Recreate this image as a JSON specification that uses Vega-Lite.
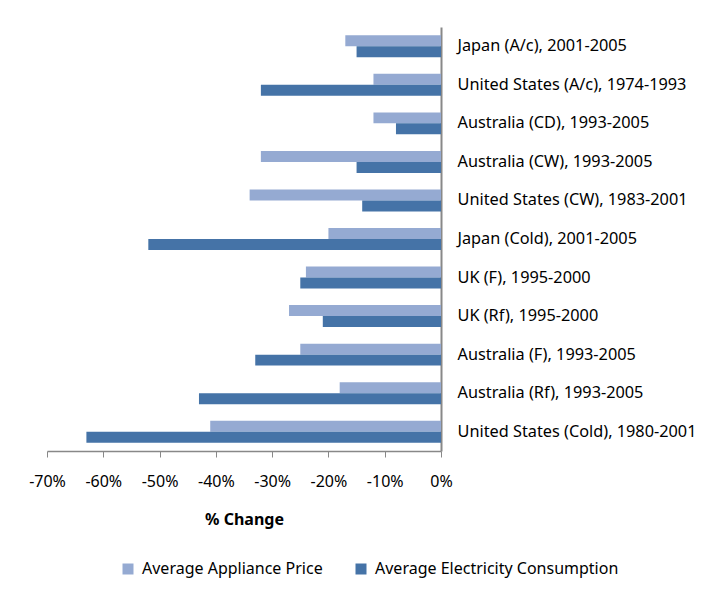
{
  "$schema": "https://vega.github.io/schema/vega-lite/v6.json",
  "width": 394,
  "height": 424,
  "padding": {"left": 28, "top": 27, "right": 5, "bottom": 5},
  "background": "white",
  "config": {
    "font": "Noto Sans",
    "view": {"stroke": null}
  },
  "data": {
    "values": [
      {"category": "Japan (A/c), 2001-2005", "series": "Average Appliance Price", "value": -17},
      {"category": "Japan (A/c), 2001-2005", "series": "Average Electricity Consumption", "value": -15},
      {"category": "United States (A/c), 1974-1993", "series": "Average Appliance Price", "value": -12},
      {"category": "United States (A/c), 1974-1993", "series": "Average Electricity Consumption", "value": -32},
      {"category": "Australia (CD), 1993-2005", "series": "Average Appliance Price", "value": -12},
      {"category": "Australia (CD), 1993-2005", "series": "Average Electricity Consumption", "value": -8},
      {"category": "Australia (CW), 1993-2005", "series": "Average Appliance Price", "value": -32},
      {"category": "Australia (CW), 1993-2005", "series": "Average Electricity Consumption", "value": -15},
      {"category": "United States (CW), 1983-2001", "series": "Average Appliance Price", "value": -34},
      {"category": "United States (CW), 1983-2001", "series": "Average Electricity Consumption", "value": -14},
      {"category": "Japan (Cold), 2001-2005", "series": "Average Appliance Price", "value": -20},
      {"category": "Japan (Cold), 2001-2005", "series": "Average Electricity Consumption", "value": -52},
      {"category": "UK (F), 1995-2000", "series": "Average Appliance Price", "value": -24},
      {"category": "UK (F), 1995-2000", "series": "Average Electricity Consumption", "value": -25},
      {"category": "UK (Rf), 1995-2000", "series": "Average Appliance Price", "value": -27},
      {"category": "UK (Rf), 1995-2000", "series": "Average Electricity Consumption", "value": -21},
      {"category": "Australia (F), 1993-2005", "series": "Average Appliance Price", "value": -25},
      {"category": "Australia (F), 1993-2005", "series": "Average Electricity Consumption", "value": -33},
      {"category": "Australia (Rf), 1993-2005", "series": "Average Appliance Price", "value": -18},
      {"category": "Australia (Rf), 1993-2005", "series": "Average Electricity Consumption", "value": -43},
      {"category": "United States (Cold), 1980-2001", "series": "Average Appliance Price", "value": -41},
      {"category": "United States (Cold), 1980-2001", "series": "Average Electricity Consumption", "value": -63}
    ]
  },
  "mark": {"type": "bar"},
  "encoding": {
    "y": {
      "field": "category",
      "type": "nominal",
      "sort": null,
      "scale": {"paddingInner": 0.43, "paddingOuter": 0.215},
      "axis": {
        "orient": "right",
        "title": null,
        "ticks": false,
        "labelPadding": 16,
        "labelFontSize": 16.3,
        "labelColor": "#000000",
        "domainColor": "#888888",
        "domainWidth": 2,
        "labelLimit": 400
      }
    },
    "yOffset": {
      "field": "series",
      "type": "nominal",
      "sort": ["Average Appliance Price", "Average Electricity Consumption"],
      "scale": {"paddingInner": 0, "paddingOuter": 0}
    },
    "x": {
      "field": "value",
      "type": "quantitative",
      "scale": {"domain": [-70, 0], "nice": false},
      "axis": {
        "values": [-70, -60, -50, -40, -30, -20, -10, 0],
        "labelExpr": "datum.value + '%'",
        "labelFlush": false,
        "labelOverlap": false,
        "grid": false,
        "title": "% Change",
        "titleFontSize": 16,
        "titleFontWeight": "bold",
        "titleColor": "#000000",
        "titlePadding": 22,
        "labelFontSize": 16,
        "labelColor": "#000000",
        "labelPadding": 16,
        "tickSize": 6,
        "tickColor": "#888888",
        "domainColor": "#888888",
        "domainWidth": 1.5
      }
    },
    "color": {
      "field": "series",
      "type": "nominal",
      "sort": ["Average Appliance Price", "Average Electricity Consumption"],
      "scale": {"range": ["#95AAD2", "#4573A7"]},
      "legend": {
        "orient": "none",
        "legendX": 73,
        "legendY": 534,
        "direction": "horizontal",
        "title": null,
        "symbolType": "square",
        "symbolSize": 121,
        "symbolStrokeWidth": 0,
        "labelFontSize": 16,
        "labelColor": "#000000",
        "labelLimit": 400,
        "labelOffset": 6,
        "columnPadding": 30
      }
    }
  }
}
